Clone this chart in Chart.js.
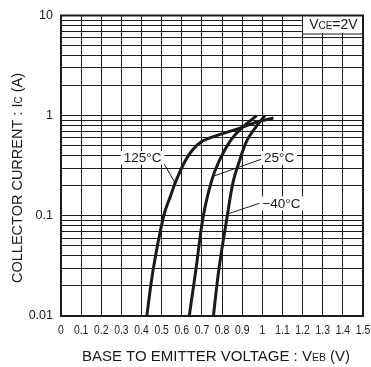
<!DOCTYPE html>
<html>
<head>
<meta charset="utf-8">
<script src="https://cdn.jsdelivr.net/npm/chart.js@4.4.1/dist/chart.umd.min.js"></script>
<style>
  html, body { margin: 0; padding: 0; background: #fff; }
  #wrap { width: 371px; height: 367px; }
</style>
</head>
<body>
<div id="wrap"><canvas id="chart" width="371" height="367"></canvas></div>
<script>
// ========================================
// DATA
// ========================================
const xTickLabels = ['0', '0.1', '0.2', '0.3', '0.4', '0.5', '0.6', '0.7', '0.8', '0.9', '1', '1.1', '1.2', '1.3', '1.4', '1.5'];
const yDecadeLabels = ['0.01', '0.1', '1', '10'];

const vbe125 = [0.426, 0.459, 0.51, 0.545, 0.571, 0.616, 0.655, 0.695, 0.74, 0.81, 0.889, 0.97, 1.055];
const ic125  = [0.01, 0.03, 0.1, 0.16, 0.223, 0.351, 0.46, 0.545, 0.6, 0.67, 0.75, 0.86, 0.946];

const vbe25 = [0.637, 0.671, 0.707, 0.748, 0.785, 0.84, 0.897, 0.972];
const ic25  = [0.01, 0.03, 0.1, 0.223, 0.351, 0.556, 0.753, 1.0];

const vbeM40 = [0.757, 0.785, 0.826, 0.856, 0.886, 0.922, 0.964, 1.013];
const icM40  = [0.01, 0.03, 0.1, 0.223, 0.351, 0.556, 0.753, 1.0];

const FONT = '"Liberation Sans", Arial, sans-serif';
const INK = '#1a1a1a';

// grid lines at every 1..9 step of each decade
const yGrid = [];
yDecadeLabels.slice(0, 3).forEach(d => {
    for (let m = 1; m <= 9; m++) yGrid.push(parseFloat((parseFloat(d) * m).toPrecision(3)));
});
yGrid.push(10);

function toPoints(xs, ys) {
    return xs.map((v, i) => ({ x: v, y: ys[i] }));
}

function curve(xs, ys) {
    return {
        data: toPoints(xs, ys),
        showLine: true,
        borderColor: INK,
        borderWidth: 3,
        pointRadius: 0,
        tension: 0.4
    };
}

// draw text made of pieces with different sizes, centred on cx
function drawMixed(ctx, parts, cx, baseline) {
    let total = 0;
    parts.forEach(p => {
        ctx.font = p[1] + 'px ' + FONT;
        p.w = ctx.measureText(p[0]).width;
        total += p.w;
    });
    let xx = cx - total / 2;
    ctx.textAlign = 'left';
    ctx.textBaseline = 'alphabetic';
    parts.forEach(p => {
        ctx.font = p[1] + 'px ' + FONT;
        ctx.fillText(p[0], xx, baseline);
        xx += p.w;
    });
}

// ========================================
// ANNOTATIONS, TITLES AND FRAME
// ========================================
const tempLabels = [
    { text: '125°C', at: [0.405, 0.38], from: [0.5, 0.363], to: [0.566, 0.214] },
    { text: '25°C', at: [1.083, 0.38], from: [1.003, 0.372], to: [0.765, 0.252] },
    { text: '\u221240°C', at: [1.095, 0.133], from: [1.003, 0.137], to: [0.831, 0.105] }
];

const decorPlugin = {
    id: 'decor',
    afterDatasetsDraw(chart) {
        const { ctx, chartArea: a, scales: { x, y } } = chart;
        ctx.save();

        // leader lines + white-backed labels
        tempLabels.forEach(l => {
            ctx.strokeStyle = INK;
            ctx.lineWidth = 1;
            ctx.beginPath();
            ctx.moveTo(x.getPixelForValue(l.from[0]), y.getPixelForValue(l.from[1]));
            ctx.lineTo(x.getPixelForValue(l.to[0]), y.getPixelForValue(l.to[1]));
            ctx.stroke();

            ctx.font = '13.5px ' + FONT;
            const w = ctx.measureText(l.text).width;
            const cx = x.getPixelForValue(l.at[0]);
            const cy = y.getPixelForValue(l.at[1]);
            ctx.fillStyle = '#fff';
            ctx.fillRect(cx - w / 2 - 3, cy - 7, w + 6, 14);
            ctx.fillStyle = INK;
            ctx.textAlign = 'center';
            ctx.textBaseline = 'middle';
            ctx.fillText(l.text, cx, cy + 1);
        });

        // VCE=2V box in the top right corner
        const bx = x.getPixelForValue(1.196);
        const by = y.getPixelForValue(6.67);
        ctx.fillStyle = '#fff';
        ctx.fillRect(bx, a.top, a.right - bx, by - a.top);
        ctx.strokeStyle = INK;
        ctx.lineWidth = 1;
        ctx.strokeRect(Math.round(bx) + 0.5, a.top, a.right - Math.round(bx), Math.round(by - a.top) + 0.5);
        ctx.fillStyle = INK;
        drawMixed(ctx, [['V', 14], ['CE', 10], ['=2V', 14]], (bx + a.right) / 2 + 1, (a.top + by) / 2 + 5);

        // frame
        ctx.strokeStyle = INK;
        ctx.lineWidth = 2;
        ctx.strokeRect(a.left, a.top, a.right - a.left, a.bottom - a.top);

        // x tick labels, condensed like the original print
        ctx.fillStyle = INK;
        ctx.font = '13px ' + FONT;
        ctx.textAlign = 'center';
        ctx.textBaseline = 'middle';
        xTickLabels.forEach(l => {
            ctx.save();
            ctx.translate(x.getPixelForValue(parseFloat(l)), a.bottom + 14);
            ctx.scale(0.8, 1);
            ctx.fillText(l, 0, 0);
            ctx.restore();
        });

        // axis titles
        drawMixed(ctx, [['BASE TO EMITTER VOLTAGE : V', 15], ['EB', 10.5], [' (V)', 15]], 216, 361);

        ctx.translate(22, 178);
        ctx.rotate(-Math.PI / 2);
        drawMixed(ctx, [['COLLECTOR CURRENT : I', 14.5], ['C', 10], [' (A)', 14.5]], 0, 0);
        ctx.restore();
    }
};

// ========================================
// CHART
// ========================================
const ctx = document.getElementById('chart').getContext('2d');
new Chart(ctx, {
    type: 'scatter',
    data: {
        datasets: [
            curve(vbe125, ic125),
            curve(vbe25, ic25),
            curve(vbeM40, icM40)
        ]
    },
    options: {
        responsive: false,
        animation: false,
        layout: { padding: { top: 14, right: 8, left: 0, bottom: 0 } },
        plugins: {
            legend: { display: false },
            tooltip: { enabled: false }
        },
        scales: {
            x: {
                type: 'linear',
                min: 0,
                max: 1.5,
                afterBuildTicks: scale => {
                    scale.ticks = xTickLabels.map(l => ({ value: parseFloat(l) }));
                },
                afterFit: scale => { scale.height = 51; },
                border: { display: false },
                grid: { color: INK, lineWidth: 1, drawTicks: false },
                ticks: { display: false }
            },
            y: {
                type: 'logarithmic',
                min: 0.01,
                max: 10,
                afterBuildTicks: scale => {
                    scale.ticks = yGrid.map(v => ({ value: v }));
                },
                afterFit: scale => { scale.width = 61; },
                border: { display: false },
                grid: { color: INK, lineWidth: 1, drawTicks: false },
                ticks: {
                    autoSkip: false,
                    padding: 8,
                    color: INK,
                    font: { family: FONT, size: 12.5 },
                    callback: function(value) {
                        const hit = yDecadeLabels.find(l => Math.abs(parseFloat(l) - value) < value * 1e-6);
                        return hit ? hit : '';
                    }
                }
            }
        }
    },
    plugins: [decorPlugin]
});
</script>
</body>
</html>
